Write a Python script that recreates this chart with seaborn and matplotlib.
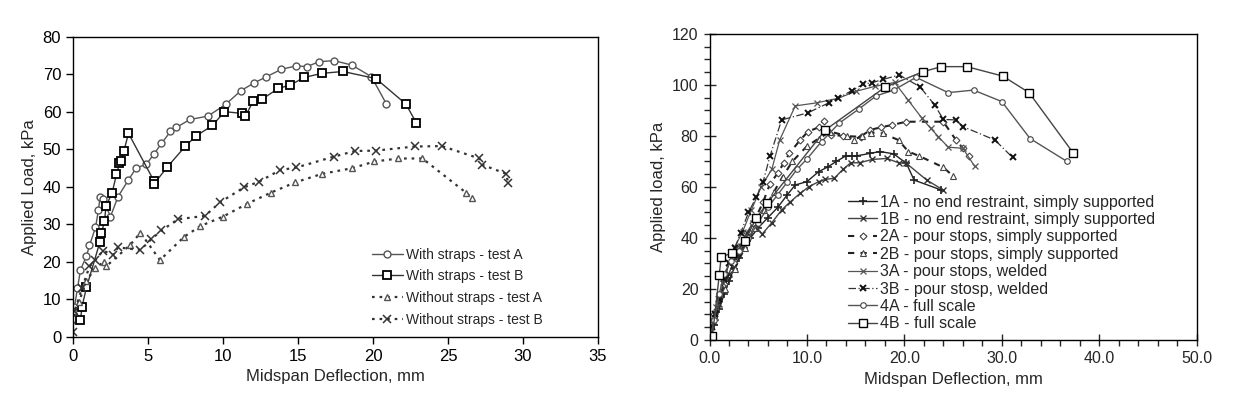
"""Load-deflection curves for slab tests, two panels."""

import matplotlib

matplotlib.use("Agg")
import matplotlib.pyplot as plt
import numpy as np
import pandas as pd
import seaborn as sns
from matplotlib.ticker import MultipleLocator, FormatStrFormatter

# ---- left panel: straps vs no straps ----
strap_a_x = [0.1, 0.3, 0.5, 0.9, 1.1, 1.5, 1.7, 1.8, 2.0, 2.5, 3.0, 3.7, 4.2, 4.9, 5.4, 5.9, 6.5,
             6.9, 7.8, 9.0, 10.2, 11.2, 12.1, 12.9, 13.9, 14.9, 15.6, 16.4, 17.4, 18.6, 19.9, 20.9]
strap_a_y = [8.0, 13.0, 17.9, 21.6, 24.4, 29.2, 33.9, 37.2, 36.7, 32.1, 37.4, 41.9, 45.0, 46.1,
             48.8, 51.6, 54.8, 55.9, 58.0, 58.9, 62.1, 65.7, 67.8, 69.4, 71.4, 72.3, 72.1, 73.4,
             73.7, 72.5, 69.4, 62.1]

strap_b_x = [0.5, 0.6, 0.9, 1.8, 1.9, 2.1, 2.2, 2.6, 2.9, 3.1, 3.2, 3.4, 3.7, 5.4, 5.4, 6.3,
             7.5, 8.2, 9.3, 10.1, 11.3, 11.5, 12.0, 12.6, 13.7, 14.5, 15.4, 16.6, 18.0, 20.2,
             22.2, 22.9]
strap_b_y = [4.4, 8.1, 13.2, 25.4, 27.8, 30.8, 34.9, 38.3, 43.4, 46.3, 46.9, 49.7, 54.3, 41.6,
             40.8, 45.4, 50.9, 53.6, 56.4, 60.1, 59.6, 58.9, 62.8, 63.4, 66.3, 67.2, 69.2, 70.3,
             70.8, 68.9, 62.1, 57.0]

nostrap_a_x = [0.1, 0.4, 0.9, 1.5, 2.1, 2.2, 3.8, 4.5, 5.8, 7.4, 8.5, 10.0, 11.6, 13.2, 14.8,
               16.6, 18.6, 20.1, 21.7, 23.3, 26.2, 26.6]
nostrap_a_y = [7.0, 9.4, 15.0, 18.5, 20.1, 18.8, 24.5, 27.8, 20.5, 26.7, 29.6, 32.1, 35.5, 38.5,
               41.2, 43.5, 45.0, 46.8, 47.6, 47.6, 38.5, 37.0]

nostrap_b_x = [0.0, 0.1, 0.6, 1.1, 1.5, 2.0, 2.7, 3.0, 4.5, 5.2, 5.9, 7.0, 8.8, 9.8, 11.4, 12.4,
               13.8, 14.9, 17.4, 18.8, 20.2, 22.8, 24.6, 27.1, 27.3, 28.9, 29.0]
nostrap_b_y = [1.4, 6.8, 13.0, 18.8, 20.5, 23.0, 21.9, 23.9, 23.2, 26.0, 28.4, 31.4, 32.3, 35.9,
               39.9, 41.4, 44.5, 45.2, 48.1, 49.6, 49.7, 50.8, 50.9, 47.6, 45.9, 43.5, 41.0]

# ---- right panel: end restraint series ----
s1a_x = [0.0, 0.5, 1.0, 1.5, 2.0, 2.5, 3.0, 3.5, 4.2, 5.0, 6.0, 7.0, 8.0, 8.8, 10.0, 11.2, 12.2,
         13.0, 14.0, 14.6, 15.1, 16.5, 17.5, 18.9, 20.2, 21.0, 23.8]
s1a_y = [0.0, 6.0, 12.0, 18.0, 23.0, 28.0, 32.0, 36.0, 40.0, 44.0, 48.0, 52.0, 57.0, 60.8, 62.1,
         66.0, 68.0, 70.0, 72.2, 72.2, 72.2, 73.2, 73.9, 73.0, 69.3, 62.7, 58.8]

s1b_x = [0.0, 0.5, 1.0, 1.5, 2.0, 2.6, 3.2, 3.8, 4.5, 5.4, 6.4, 7.4, 8.3, 9.3, 10.2, 11.2, 11.9,
         12.8, 13.7, 14.5, 15.4, 16.7, 18.2, 19.4, 20.2, 22.3, 24.0]
s1b_y = [0.0, 7.0, 14.0, 20.0, 26.0, 32.0, 37.0, 42.0, 46.0, 41.5, 46.0, 51.0, 54.2, 57.5, 60.1,
         62.1, 63.0, 63.4, 66.9, 69.5, 69.5, 70.8, 71.2, 69.5, 69.3, 62.7, 58.8]

s2a_x = [0.0, 0.5, 1.5, 2.5, 3.5, 4.5, 5.5, 6.2, 7.0, 7.6, 8.2, 9.3, 10.1, 11.2, 11.7, 12.5, 13.7,
         15.5, 16.5, 17.6, 18.7, 20.2, 24.0, 25.3, 26.0, 26.6]
s2a_y = [0.0, 10.0, 22.0, 30.0, 38.0, 46.0, 54.0, 61.2, 65.4, 69.3, 73.2, 78.4, 81.7, 83.4, 86.0,
         80.5, 80.0, 79.7, 82.4, 83.4, 84.3, 85.6, 85.6, 78.4, 75.2, 72.0]

s2b_x = [0.0, 0.6, 1.6, 2.6, 3.6, 4.6, 5.6, 6.6, 7.5, 8.5, 10.0, 11.2, 12.4, 14.1, 14.8, 15.6,
         16.6, 17.8, 19.4, 20.4, 21.5, 24.0, 25.0]
s2b_y = [0.0, 9.0, 20.0, 28.0, 36.0, 44.0, 51.0, 58.0, 64.0, 70.0, 76.0, 79.0, 81.7, 80.0, 78.4,
         80.0, 81.3, 81.0, 78.4, 73.9, 72.2, 67.7, 64.3]

s3a_x = [0.0, 0.4, 0.7, 1.4, 2.0, 2.6, 3.4, 4.3, 5.3, 6.4, 7.2, 8.8, 11.0, 13.2, 15.0, 17.0,
         19.0, 20.4, 21.8, 22.7, 23.5, 24.5, 26.0, 27.2]
s3a_y = [0.0, 8.0, 13.0, 22.2, 30.0, 36.6, 42.5, 51.0, 60.0, 67.0, 78.4, 91.8, 93.0, 94.8, 97.5,
         99.5, 101.0, 94.0, 87.0, 83.0, 79.7, 75.6, 75.2, 68.2]

s3b_x = [0.0, 0.3, 0.6, 1.0, 1.5, 2.0, 2.6, 3.2, 4.0, 4.8, 5.5, 6.2, 7.4, 10.1, 12.3, 13.2, 14.6,
         15.8, 16.7, 17.8, 19.5, 21.6, 23.1, 24.0, 25.3, 26.0, 29.3, 31.1]
s3b_y = [0.0, 5.0, 10.0, 16.0, 24.0, 30.0, 36.0, 42.0, 50.0, 56.0, 62.0, 72.0, 86.3, 89.1, 93.1,
         94.8, 97.8, 100.4, 100.9, 102.2, 103.9, 99.3, 92.2, 86.5, 86.3, 83.7, 78.4, 71.6]

s4a_x = [0.0, 0.5, 1.0, 1.5, 2.2, 3.0, 4.0, 5.0, 6.0, 7.0, 8.0, 9.0, 10.0, 11.5, 13.3, 15.3, 17.1,
         18.9, 21.2, 24.5, 27.1, 30.0, 32.9, 36.7]
s4a_y = [0.0, 8.0, 18.0, 26.0, 31.0, 35.0, 40.0, 46.0, 52.0, 57.0, 62.0, 67.0, 71.0, 77.8, 85.0,
         90.5, 95.7, 98.0, 103.0, 97.0, 98.0, 93.5, 79.0, 70.0]

s4b_x = [0.0, 0.3, 1.0, 1.2, 2.3, 3.6, 4.8, 5.9, 11.9, 18.0, 21.9, 23.8, 26.4, 30.1, 32.8, 37.3]
s4b_y = [0.0, 1.6, 25.5, 32.7, 34.0, 39.0, 47.7, 53.6, 82.4, 99.1, 105.2, 107.2, 107.2, 103.5,
         97.0, 73.5]

sns.set_style("ticks")
plt.rcParams["font.family"] = ["Liberation Sans", "DejaVu Sans"]

fig = plt.figure(figsize=(12.52, 3.99), dpi=100)
ax1 = fig.add_axes([0.0583, 0.1554, 0.4193, 0.7519])
ax2 = fig.add_axes([0.5667, 0.1479, 0.3891, 0.7669])


def draw(ax, xs, ys, label, **kw):
    df = pd.DataFrame({"x": xs, "y": ys})
    sns.lineplot(data=df, x="x", y="y", ax=ax, sort=False, estimator=None, label=label, **kw)


# left panel
draw(ax1, strap_a_x, strap_a_y, "With straps - test A", color="#555555", lw=1.0,
     marker="o", ms=5, mfc="white", mec="#555555", mew=1.0)
draw(ax1, strap_b_x, strap_b_y, "With straps - test B", color="#333333", lw=1.0,
     marker="s", ms=6, mfc="white", mec="black", mew=1.3)
draw(ax1, nostrap_a_x, nostrap_a_y, "Without straps - test A", color="#333333", lw=1.6,
     linestyle=(0, (1.2, 2.2)), marker="^", ms=5, mfc="white", mec="#555555", mew=1.0)
draw(ax1, nostrap_b_x, nostrap_b_y, "Without straps - test B", color="#333333", lw=1.6,
     linestyle=(0, (1.2, 2.2)), marker="x", ms=6, mec="#333333", mew=1.1)

ax1.set_xlim(0, 35)
ax1.set_ylim(0, 80)
ax1.xaxis.set_major_locator(MultipleLocator(5))
ax1.yaxis.set_major_locator(MultipleLocator(10))
ax1.tick_params(direction="out", length=5, width=1, labelsize=12, colors="black")
ax1.set_xlabel("Midspan Deflection, mm", fontsize=12)
ax1.set_ylabel("Applied Load, kPa", fontsize=12, labelpad=4)
ax1.legend(loc="upper left", bbox_to_anchor=(0.57, 0.298), frameon=False, fontsize=10,
           handlelength=2.2, handletextpad=0.2, labelspacing=0.55, borderpad=0,
           borderaxespad=0)

# right panel
draw(ax2, s1a_x, s1a_y, "1A - no end restraint, simply supported", color="#222222", lw=1.0,
     marker="+", ms=6, mec="#222222", mew=1.2)
draw(ax2, s1b_x, s1b_y, "1B - no end restraint, simply supported", color="#444444", lw=1.0,
     marker="x", ms=5, mec="#333333", mew=1.0)
draw(ax2, s2a_x, s2a_y, "2A - pour stops, simply supported", color="#222222", lw=1.5,
     linestyle=(0, (3, 3)), marker="D", ms=3.5, mfc="white", mec="#444444", mew=0.8)
draw(ax2, s2b_x, s2b_y, "2B - pour stops, simply supported", color="#222222", lw=1.5,
     linestyle=(0, (3, 3)), marker="^", ms=4, mfc="white", mec="#444444", mew=0.8)
draw(ax2, s3a_x, s3a_y, "3A - pour stops, welded", color="#555555", lw=0.9,
     marker="x", ms=4.5, mec="#555555", mew=0.9)
draw(ax2, s3b_x, s3b_y, "3B - pour stosp, welded", color="#333333", lw=0.9,
     linestyle=(0, (6, 2, 1, 2)), marker="x", ms=5, mec="#111111", mew=1.4)
draw(ax2, s4a_x, s4a_y, "4A - full scale", color="#555555", lw=1.0,
     marker="o", ms=4, mfc="white", mec="#444444", mew=0.8)
draw(ax2, s4b_x, s4b_y, "4B - full scale", color="#444444", lw=1.0,
     marker="s", ms=5.5, mfc="white", mec="black", mew=1.0)

ax2.set_xlim(0, 50)
ax2.set_ylim(0, 120)
ax2.xaxis.set_major_locator(MultipleLocator(10))
ax2.xaxis.set_minor_locator(MultipleLocator(2))
ax2.yaxis.set_major_locator(MultipleLocator(20))
ax2.yaxis.set_minor_locator(MultipleLocator(5))
ax2.xaxis.set_major_formatter(FormatStrFormatter("%.1f"))
ax2.tick_params(which="major", direction="inout", length=9, width=1, labelsize=11.5)
ax2.tick_params(which="minor", direction="out", length=4, width=1)
ax2.set_xlabel("Midspan Deflection, mm", fontsize=12)
ax2.set_ylabel("Applied load, kPa", fontsize=12, labelpad=4)
ax2.legend(loc="upper left", bbox_to_anchor=(0.285, 0.475), frameon=False, fontsize=11.5,
           handlelength=1.8, handletextpad=0.2, labelspacing=0.15, borderpad=0,
           borderaxespad=0)

for ax in (ax1, ax2):
    for side in ax.spines.values():
        side.set_color("black")
        side.set_linewidth(1.0)

fig.savefig("out.png", dpi=100)
